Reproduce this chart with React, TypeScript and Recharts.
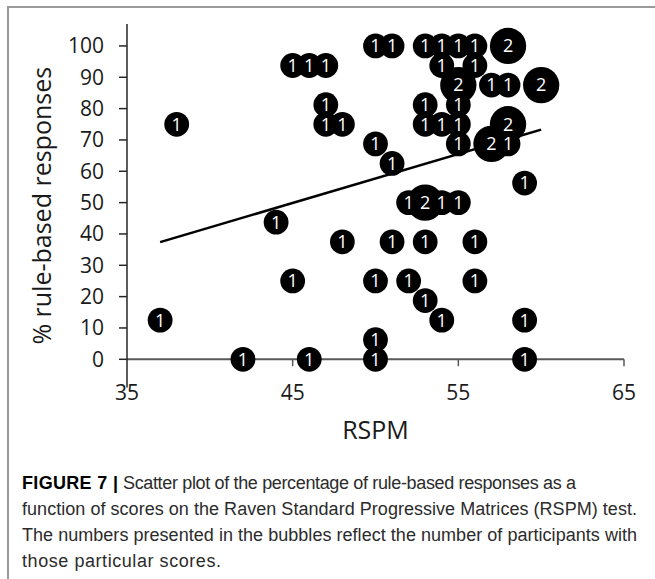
import React from "react";
import {
  ScatterChart,
  Scatter,
  XAxis,
  YAxis,
  ReferenceLine,
  LabelList,
} from "recharts";

// RSPM score, % rule-based responses, number of participants
const rspm = [38, 37, 42, 44, 45, 46, 47, 47, 47, 48, 48, 45, 46, 50, 51, 50, 51, 50, 50, 50, 51, 52, 53, 54, 55, 52, 53, 53, 54, 56, 56, 53, 54, 55, 56, 58, 54, 56, 55, 57, 58, 60, 53, 55, 53, 54, 55, 58, 55, 57, 58, 59, 59, 59];
const ruleBased = [75, 12.5, 0, 43.75, 93.75, 93.75, 93.75, 81.25, 75, 75, 37.5, 25, 0, 100, 100, 68.75, 62.5, 25, 6.25, 0, 37.5, 50, 50, 50, 50, 25, 37.5, 18.75, 12.5, 37.5, 25, 100, 100, 100, 100, 100, 93.75, 93.75, 87.5, 87.5, 87.5, 87.5, 81.25, 81.25, 75, 75, 75, 75, 68.75, 68.75, 68.75, 56.25, 12.5, 0];
const counts = [1, 1, 1, 1, 1, 1, 1, 1, 1, 1, 1, 1, 1, 1, 1, 1, 1, 1, 1, 1, 1, 1, 2, 1, 1, 1, 1, 1, 1, 1, 1, 1, 1, 1, 1, 2, 1, 1, 2, 1, 1, 2, 1, 1, 1, 1, 1, 2, 1, 2, 1, 1, 1, 1];

// linear trendline end points
const trendX = [37, 60];
const trendY = [37.4, 73.3];

const xTicks = [35, 45, 55, 65];
const yTicks = [0, 10, 20, 30, 40, 50, 60, 70, 80, 90, 100];

const points = rspm.map((x, i) => ({ x, y: ruleBased[i], n: counts[i] }));
const trend = trendX.map((x, i) => ({ x, y: trendY[i] }));

const axisFont = "'Open Sans', sans-serif";
const captionFont = "'Liberation Sans', Arial, sans-serif";

const Bubble = (props: any) => {
  const { cx, cy, payload } = props;
  const r = 12.4 * Math.pow(payload.n, 0.55);
  return <circle cx={cx} cy={cy} r={r} fill="#000" />;
};

const XTick = ({ x, y, payload }: any) => (
  <text
    x={x}
    y={y}
    dy={12.5}
    textAnchor="middle"
    fill="#1a1a1a"
    fontSize={21}
    fontFamily={axisFont}
  >
    {payload.value}
  </text>
);

export default function App() {
  return (
    <div
      style={{
        position: "absolute",
        left: 0,
        top: 0,
        width: 655,
        height: 579,
        background: "#fff",
        overflow: "hidden",
      }}
    >
      <div
        style={{
          position: "absolute",
          left: 7,
          top: 6,
          width: 700,
          height: 700,
          borderTop: "2px solid #9a9a9a",
          borderLeft: "2px solid #9a9a9a",
        }}
      />
      <div style={{ position: "absolute", left: 0, top: 0 }}>
        <ScatterChart
          width={655}
          height={460}
          margin={{ top: 24, right: 31, left: 0, bottom: 0 }}
        >
          <XAxis
            type="number"
            dataKey="x"
            domain={[35, 65]}
            ticks={xTicks}
            height={72.5}
            axisLine={false}
            tickLine={false}
            tickSize={0}
            tickMargin={0}
            tick={<XTick />}
            label={{
              value: "RSPM",
              position: "insideBottom",
              offset: 21,
              fill: "#1a1a1a",
              fontSize: 25,
              fontFamily: axisFont,
            }}
          />
          <YAxis
            type="number"
            dataKey="y"
            domain={[-9, 107]}
            ticks={yTicks}
            allowDataOverflow
            width={127}
            tickSize={8}
            tickMargin={15}
            axisLine={{ stroke: "#262626", strokeWidth: 1.5 }}
            tickLine={{ stroke: "#262626", strokeWidth: 1.5 }}
            tick={{ fill: "#1a1a1a", fontSize: 21, fontFamily: axisFont }}
            label={{
              value: "% rule-based responses",
              angle: -90,
              position: "insideLeft",
              offset: 42,
              fill: "#1a1a1a",
              fontSize: 25,
              fontFamily: axisFont,
              style: { textAnchor: "middle" },
            }}
          />
          <ReferenceLine y={0} stroke="#595959" strokeWidth={2} />
          {xTicks.slice(1).map((t) => (
            <ReferenceLine
              key={t}
              segment={[
                { x: t, y: 0 },
                { x: t, y: -2.2 },
              ]}
              stroke="#595959"
              strokeWidth={1.5}
            />
          ))}
          <Scatter
            data={points}
            shape={<Bubble />}
            isAnimationActive={false}
          >
            <LabelList
              dataKey="n"
              position="center"
              fill="#fff"
              fontSize={18}
              fontFamily={axisFont}
            />
          </Scatter>
          <Scatter
            data={trend}
            line={{ stroke: "#000", strokeWidth: 2.5 }}
            shape={() => null}
            isAnimationActive={false}
          />
        </ScatterChart>
      </div>
      <svg
        width={655}
        height={120}
        style={{ position: "absolute", left: 0, top: 460 }}
        fontFamily={captionFont}
        fontSize={18}
        fill="#2b2b2b"
      >
        <text x={22} y={29} fontWeight="bold" fill="#000" textLength={96}>
          FIGURE 7 |
        </text>
        <text x={123} y={29} textLength={453}>
          Scatter plot of the percentage of rule-based responses as a
        </text>
        <text x={22} y={55} textLength={615}>
          function of scores on the Raven Standard Progressive Matrices (RSPM)
          test.
        </text>
        <text x={22} y={81} textLength={615}>
          The numbers presented in the bubbles reflect the number of
          participants with
        </text>
        <text x={22} y={107} textLength={199}>
          those particular scores.
        </text>
      </svg>
    </div>
  );
}
